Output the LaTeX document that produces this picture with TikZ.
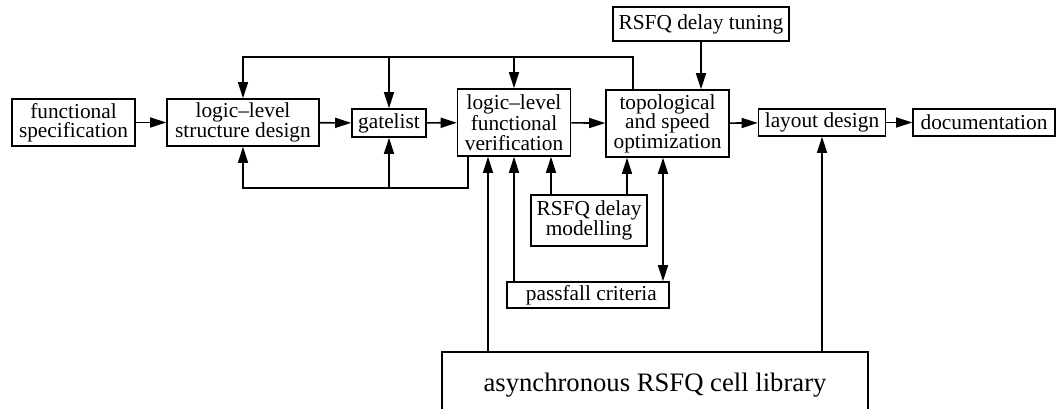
\documentclass[tikz,border=0pt]{standalone}
\usepackage{fontspec}
\setmainfont{Liberation Serif}
\usetikzlibrary{arrows.meta}

\tikzset{every picture/.style={line width=1.2pt},
  blk/.style={draw, rectangle, inner sep=0pt, align=center, font=\rmfamily\fontsize{16}{14.6}\selectfont},
  arr/.style={-{Triangle[length=12pt,width=7.5pt]}},
  dblarr/.style={{Triangle[length=12pt,width=7.5pt]}-{Triangle[length=12pt,width=7.5pt]}}}

\begin{document}
\begin{tikzpicture}[x=0.75pt,y=0.75pt,yscale=-1,xscale=1]
\useasboundingbox (0,0) rectangle (1056,409);
\clip (0,0) rectangle (1056,409);

% Blocks
\node [blk, minimum width=92.25pt, minimum height=35.25pt] (spec) at (73.5,122.5) {functional\\specification};
\node [blk, minimum width=114pt, minimum height=35.25pt] (struct) at (243,122.5) {logic--level\\structure design};
\node [blk, minimum width=55.5pt, minimum height=21pt] (gate) at (389,123) {gatelist};
\node [blk, minimum width=84.75pt, minimum height=50.25pt] (verif) at (514,122.5) {logic--level\\functional\\verification};
\node [blk, minimum width=92.25pt, minimum height=50.25pt] (topo) at (667.5,123.5) {topological\\and speed\\optimization};
\node [blk, minimum width=95.25pt, minimum height=20.25pt] (layout) at (822,122.5) {layout design};
\node [blk, minimum width=106.5pt, minimum height=20.25pt] (doc) at (984,122.5) {documentation};
\node [blk, minimum width=132pt, minimum height=25.5pt] (tuning) at (701,24) {RSFQ delay tuning};
\node [blk, minimum width=87pt, minimum height=38.25pt] (model) at (589,220.5) {RSFQ delay\\modelling};
\node [blk, minimum width=121.5pt, minimum height=19.5pt] (pass) at (588,295) {\hspace{5pt}passfall criteria};
\node [blk, anchor=north, minimum width=319.5pt, text height=30pt, text depth=45pt, font=\rmfamily\fontsize{20}{24}\selectfont] (lib) at (655,351) {asynchronous RSFQ cell library};

% Helper coordinates
\coordinate (jt) at (633,57);
\coordinate (jb) at (468,188);
\coordinate (c1) at (488,0);
\coordinate (c2) at (551,0);
\coordinate (c3) at (627,0);
\coordinate (c4) at (663,0);

% Main flow
\draw [arr] (spec) -- (struct);
\draw [arr] (struct) -- (gate);
\draw [arr] (gate) -- (verif);
\draw [arr] (verif) -- (topo);
\draw [arr] (topo) -- (layout);
\draw [arr] (layout) -- (doc);
\draw [arr] (tuning.south) -- (topo.north -| tuning.south);

% Feedback above
\draw [arr] (topo.north -| jt) |- (struct.north |- jt) -- (struct.north);
\draw [arr] (gate.north |- jt) -- (gate.north);
\draw [arr] (verif.north |- jt) -- (verif.north);

% Feedback below
\draw [arr] (verif.south -| jb) |- (struct.south |- jb) -- (struct.south);
\draw [arr] (gate.south |- jb) -- (gate.south);

% Inputs from below
\draw [arr] (lib.north -| c1) -- (verif.south -| c1);
\draw [arr] (pass.north -| verif.south) -- (verif.south);
\draw [arr] (model.north -| c2) -- (verif.south -| c2);
\draw [arr] (model.north -| c3) -- (topo.south -| c3);
\draw [dblarr] (topo.south -| c4) -- (pass.north -| c4);
\draw [arr] (lib.north -| layout.south) -- (layout.south);

\end{tikzpicture}
\end{document}
